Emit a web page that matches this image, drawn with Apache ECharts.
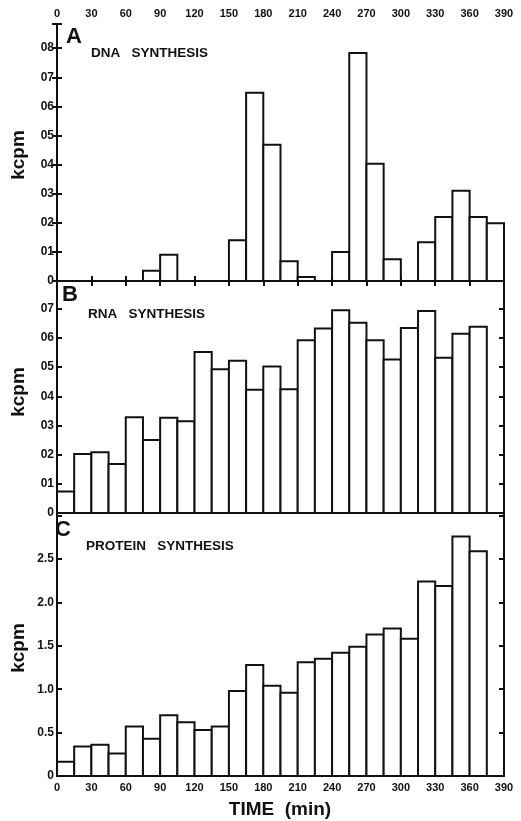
<!DOCTYPE html>
<html>
<head>
<meta charset="utf-8">
<script src="https://cdn.jsdelivr.net/npm/echarts@6/dist/echarts.min.js"></script>
<style>
  html, body { margin: 0; padding: 0; background: #fff; }
  #chart { width: 521px; height: 821px; }
</style>
</head>
<body>
<div id="chart"></div>
<script>
// start of each 15 min labelling interval (min)
const times = [0, 15, 30, 45, 60, 75, 90, 105, 120, 135, 150, 165, 180, 195, 210, 225, 240, 255, 270, 285, 300, 315, 330, 345, 360, 375]
const binWidth = 15

// kcpm
const dnaValues = [0, 0, 0, 0, 0, 0.035, 0.09, 0, 0, 0, 0.14, 0.647, 0.468, 0.068, 0.014, 0, 0.10, 0.783, 0.403, 0.075, 0, 0.133, 0.22, 0.31, 0.22, 0.198]
const rnaValues = [0.074, 0.202, 0.208, 0.168, 0.328, 0.25, 0.326, 0.314, 0.552, 0.493, 0.522, 0.422, 0.502, 0.424, 0.592, 0.632, 0.695, 0.652, 0.592, 0.526, 0.634, 0.692, 0.532, 0.614, 0.638]
const proteinValues = [0.165, 0.34, 0.36, 0.26, 0.57, 0.43, 0.70, 0.62, 0.53, 0.57, 0.98, 1.28, 1.04, 0.96, 1.31, 1.35, 1.42, 1.49, 1.63, 1.70, 1.58, 2.24, 2.19, 2.76, 2.59]

const panelNames = ['DNA   SYNTHESIS', 'RNA   SYNTHESIS', 'PROTEIN   SYNTHESIS']
const panelLetters = ['A', 'B', 'C']

const ink = '#111'
const font = 'Liberation Sans'

const binData = values => values.map((v, i) => [times[i], times[i] + binWidth, v])

const renderBar = (params, api) => {
    const val = api.value(2)
    if (!val) return
    const p0 = api.coord([api.value(0), val])
    const p1 = api.coord([api.value(1), 0])
    return {
        type: 'rect',
        shape: {x: p0[0], y: p0[1], width: p1[0] - p0[0], height: p1[1] - p0[1]},
        style: {fill: '#fff', stroke: ink, lineWidth: 2}
    }
}

// A and B are labelled 0, 01 ... 08, C is labelled 0, 0.5 ... 2.5
const tenthLabel = v => {
    if (Math.abs(v * 10 - Math.round(v * 10)) > 1e-6 || v > 0.85) return ''
    return v === 0 ? '0' : '0' + Math.round(v * 10)
}
const halfLabel = v => {
    if (Math.abs(v * 2 - Math.round(v * 2)) > 1e-6 || v > 2.9) return ''
    return v === 0 ? '0' : v.toFixed(1)
}

const labelStyle = {color: ink, fontFamily: font, fontWeight: 'bold', fontSize: 11}
const lineStyle = {color: ink, width: 2}

const grids = [
    {left: 57, right: 17, top: 24, height: 257},
    {left: 57, right: 17, top: 281, height: 232},
    {left: 57, right: 17, top: 513, height: 263}
]

const xAxis = []
// top axis of panel A with labels
xAxis.push({
    type: 'value', gridIndex: 0, position: 'top', min: 0, max: 390, interval: 30,
    axisLine: {show: true, lineStyle: lineStyle},
    axisTick: {show: true, inside: true, length: 5, lineStyle: lineStyle},
    axisLabel: Object.assign({show: true, margin: 5}, labelStyle),
    splitLine: {show: false}
})
grids.forEach((g, i) => {
    xAxis.push({
        type: 'value', gridIndex: i, position: 'bottom', min: 0, max: 390, interval: 30,
        axisLine: {show: true, lineStyle: lineStyle},
        axisTick: {show: true, inside: true, length: 5, lineStyle: lineStyle},
        axisLabel: Object.assign({show: i === 2, margin: 6}, labelStyle),
        splitLine: {show: false}
    })
})

const yRanges = [
    {max: 0.883, interval: 0.1, fmt: tenthLabel},
    {max: 0.795, interval: 0.1, fmt: tenthLabel},
    {max: 3.03, interval: 0.5, fmt: halfLabel}
]
const yAxis = []
yRanges.forEach((r, i) => {
    yAxis.push({
        type: 'value', gridIndex: i, position: 'left', min: 0, max: r.max, interval: r.interval,
        axisLine: {show: true, lineStyle: lineStyle},
        axisTick: {show: true, inside: true, length: 5, lineStyle: lineStyle},
        axisLabel: Object.assign({show: true, margin: 3, formatter: r.fmt}, labelStyle, {fontSize: 12}),
        splitLine: {show: false}
    })
    yAxis.push({
        type: 'value', gridIndex: i, position: 'right', min: 0, max: r.max, interval: r.interval,
        axisLine: {show: true, lineStyle: lineStyle},
        axisTick: {show: true, inside: true, length: 5, lineStyle: lineStyle},
        axisLabel: {show: false},
        splitLine: {show: false}
    })
})

const series = [dnaValues, rnaValues, proteinValues].map((vals, i) => ({
    type: 'custom',
    xAxisIndex: i + 1,
    yAxisIndex: i * 2,
    renderItem: renderBar,
    encode: {x: [0, 1], y: 2},
    data: binData(vals),
    silent: true
}))

const graphic = []
const letterPos = [[66, 26], [62, 284], [55, 519]]
const namePos = [[91, 46], [88, 307], [86, 539]]
const kcpmY = [155, 392, 648]
grids.forEach((g, i) => {
    graphic.push({
        type: 'text', x: letterPos[i][0], y: letterPos[i][1],
        style: {text: panelLetters[i], font: 'bold 22px "' + font + '"', fill: ink}
    })
    graphic.push({
        type: 'text', x: namePos[i][0], y: namePos[i][1],
        style: {text: panelNames[i], font: 'bold 13.5px "' + font + '"', fill: ink}
    })
    graphic.push({
        type: 'text', x: 19, y: kcpmY[i], rotation: Math.PI / 2,
        style: {
            text: 'kcpm', font: 'bold 19px "' + font + '"', fill: ink,
            align: 'center', verticalAlign: 'middle', textAlign: 'center', textVerticalAlign: 'middle'
        }
    })
})
graphic.push({
    type: 'text', x: 280, y: 810,
    style: {
        text: 'TIME  (min)', font: 'bold 19px "' + font + '"', fill: ink,
        align: 'center', verticalAlign: 'middle', textAlign: 'center', textVerticalAlign: 'middle'
    }
})

const chart = echarts.init(document.getElementById('chart'))
chart.setOption({
    backgroundColor: '#fff',
    animation: false,
    grid: grids,
    xAxis: xAxis,
    yAxis: yAxis,
    series: series,
    graphic: graphic
})
window.addEventListener('resize', () => chart.resize())
</script>
</body>
</html>
